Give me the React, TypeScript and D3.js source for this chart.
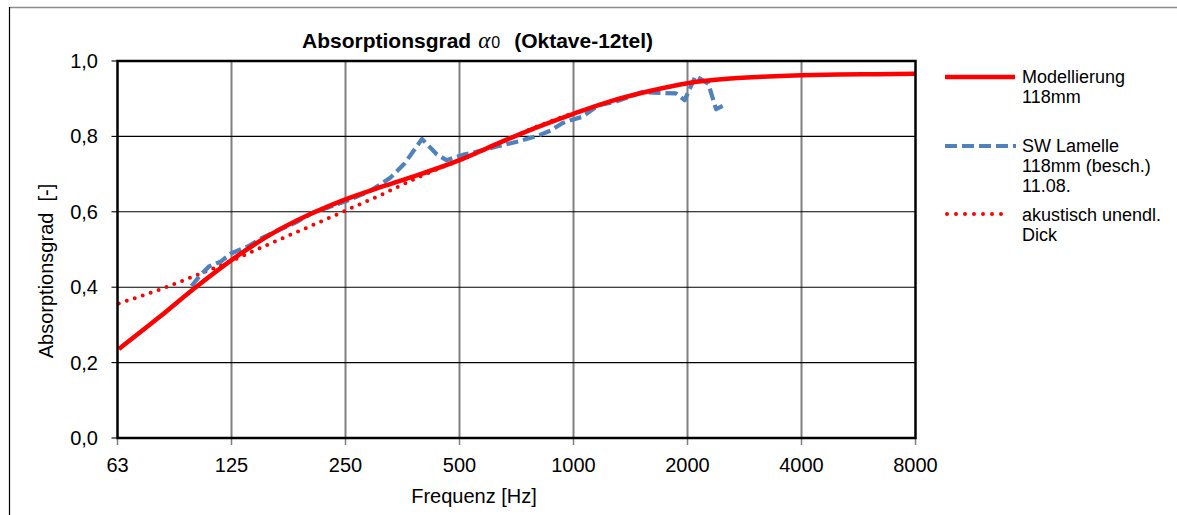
import React from "react";
import * as d3 from "d3";

// Octave band centre frequencies for the axis (nominal label and exact value)
const xTickValues = [62.5, 125, 250, 500, 1000, 2000, 4000, 8000];
const xTickLabels = ["63", "125", "250", "500", "1000", "2000", "4000", "8000"];
const yTickValues = [0, 0.2, 0.4, 0.6, 0.8, 1.0];

// Modellierung 118mm (third-octave frequencies)
const modelFreq = [63, 80, 100, 125, 160, 200, 250, 315, 400, 500, 630, 800, 1000, 1250, 1600, 2000, 2500, 3150, 4000, 5000, 6300, 8000];
const modelAlpha = [0.236, 0.318, 0.398, 0.472, 0.542, 0.592, 0.633, 0.668, 0.702, 0.737, 0.781, 0.824, 0.86, 0.893, 0.921, 0.941, 0.952, 0.958, 0.962, 0.964, 0.965, 0.966];

// SW Lamelle 118mm (besch.) 11.08. measurement
const measFreq = [98, 103, 109, 117, 125, 138, 150, 165, 185, 205, 227, 256, 290, 328, 358, 398, 436, 462, 510, 553, 627, 709, 800, 869, 934, 956, 1055, 1165, 1290, 1517, 1864, 1965, 2100, 2270, 2380, 2530];
const measAlpha = [0.403, 0.43, 0.455, 0.468, 0.49, 0.508, 0.53, 0.55, 0.572, 0.598, 0.613, 0.632, 0.655, 0.69, 0.728, 0.793, 0.752, 0.737, 0.751, 0.759, 0.773, 0.786, 0.801, 0.815, 0.835, 0.839, 0.852, 0.883, 0.892, 0.917, 0.914, 0.896, 0.96, 0.94, 0.872, 0.886];

// akustisch unendlich dick
const infFreq = [63, 80, 100, 125, 160, 200, 250, 315, 400, 500, 630, 800, 1000];
const infAlpha = [0.357, 0.392, 0.43, 0.47, 0.518, 0.56, 0.603, 0.648, 0.697, 0.737, 0.78, 0.826, 0.862];

const W = 1177;
const H = 515;
const plot = { left: 117.5, right: 915.5, top: 61, bottom: 438 };
const FONT = "'Liberation Sans', Arial, Helvetica, sans-serif";

const RED = "#FF0000";
const BLUE = "#4F81BD";

export default function App() {
  const x = d3.scaleLog().base(2).domain([62.5, 8000]).range([plot.left, plot.right]);
  const y = d3.scaleLinear().domain([0, 1]).range([plot.bottom, plot.top]);

  const pairs = (f: number[], a: number[]) => f.map((v, i) => [v, a[i]] as [number, number]);

  const smooth = d3
    .line<[number, number]>()
    .x((d) => x(d[0]))
    .y((d) => y(d[1]))
    .curve(d3.curveMonotoneX);
  const straight = d3
    .line<[number, number]>()
    .x((d) => x(d[0]))
    .y((d) => y(d[1]));

  const fmtY = (v: number) => d3.format(".1f")(v).replace(".", ",");

  return (
    <svg
      width={W}
      height={H}
      style={{ position: "absolute", left: 0, top: 0, background: "#fff" }}
      fontFamily={FONT}
    >
      {/* chart area border */}
      <line x1={9} y1={7.5} x2={W} y2={7.5} stroke="#8c8c8c" strokeWidth={1.5} />
      <line x1={9.5} y1={7} x2={9.5} y2={H} stroke="#000" strokeWidth={1.2} />

      {/* title */}
      <text x={302} y={48} fontSize={21} fontWeight="bold" fill="#000">
        Absorptionsgrad
        <tspan dx={7} fontFamily="'Liberation Serif', 'DejaVu Serif', serif" fontStyle="italic" fontWeight="normal" fontSize={23}>
          α
        </tspan>
        <tspan dx={1} fontWeight="normal" fontSize={16}>0</tspan>
        <tspan dx={14}>(Oktave-12tel)</tspan>
      </text>

      {/* vertical grid lines */}
      {xTickValues.slice(1, -1).map((v) => (
        <line key={"vx" + v} x1={x(v)} x2={x(v)} y1={plot.top} y2={plot.bottom} stroke="#808080" strokeWidth={2} />
      ))}
      {/* horizontal grid lines */}
      {yTickValues.slice(1, -1).map((v) => (
        <line key={"hy" + v} x1={plot.left} x2={plot.right} y1={y(v)} y2={y(v)} stroke="#000" strokeWidth={1.1} />
      ))}

      {/* x ticks and labels */}
      {xTickValues.map((v, i) => (
        <g key={"xt" + v}>
          <line x1={x(v)} x2={x(v)} y1={plot.bottom} y2={plot.bottom + 7} stroke="#808080" strokeWidth={1.5} />
          <text x={x(v)} y={472} textAnchor="middle" fontSize={20} fill="#000">
            {xTickLabels[i]}
          </text>
        </g>
      ))}

      {/* y ticks and labels */}
      {yTickValues.map((v) => (
        <g key={"yt" + v}>
          <line x1={plot.left - 6} x2={plot.left} y1={y(v)} y2={y(v)} stroke="#000" strokeWidth={1.1} />
          <text x={98} y={y(v) + 7} textAnchor="end" fontSize={20} fill="#000">
            {fmtY(v)}
          </text>
        </g>
      ))}

      {/* axis titles */}
      <text x={474} y={503} textAnchor="middle" fontSize={20} fill="#000">
        Frequenz [Hz]
      </text>
      <text
        transform={`translate(53, 271) rotate(-90)`}
        textAnchor="middle"
        fontSize={20}
        fill="#000"
        style={{ whiteSpace: "pre" }}
      >
        {"Absorptionsgrad  [-]"}
      </text>

      {/* data series */}
      <path d={smooth(pairs(infFreq, infAlpha)) || ""} fill="none" stroke={RED} strokeWidth={4} strokeDasharray="0 8.4" strokeLinecap="round" />
      <path d={straight(pairs(measFreq, measAlpha)) || ""} fill="none" stroke={BLUE} strokeWidth={4.2} strokeDasharray="12 5" strokeLinejoin="round" />
      <path d={smooth(pairs(modelFreq, modelAlpha)) || ""} fill="none" stroke={RED} strokeWidth={4.5} strokeLinejoin="round" />

      {/* plot frame */}
      <rect x={plot.left} y={plot.top} width={plot.right - plot.left} height={plot.bottom - plot.top} fill="none" stroke="#000" strokeWidth={2.5} />

      {/* legend */}
      <g fontSize={18} fill="#000">
        <line x1={945} x2={1015} y1={77} y2={77} stroke={RED} strokeWidth={4.5} />
        <text x={1022} y={83}>Modellierung</text>
        <text x={1022} y={103}>118mm</text>

        <line x1={945} x2={1016} y1={146} y2={146} stroke={BLUE} strokeWidth={4.2} strokeDasharray="12 5" />
        <text x={1022} y={152}>SW Lamelle</text>
        <text x={1022} y={172}>118mm (besch.)</text>
        <text x={1022} y={192}>11.08.</text>

        <line x1={947} x2={1010} y1={214} y2={214} stroke={RED} strokeWidth={4} strokeDasharray="0 9" strokeLinecap="round" />
        <text x={1022} y={221}>akustisch unendl.</text>
        <text x={1022} y={241}>Dick</text>
      </g>
    </svg>
  );
}
